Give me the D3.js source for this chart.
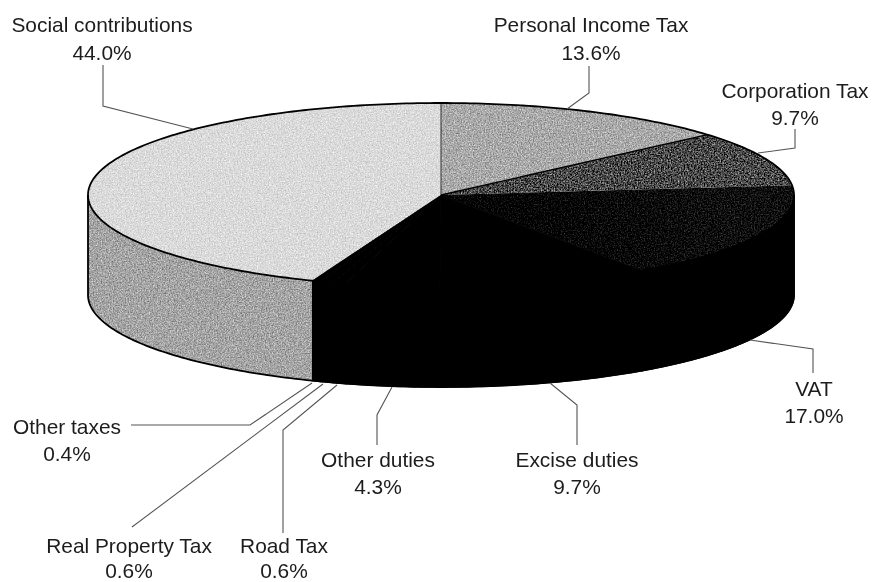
<!DOCTYPE html>
<html lang="en">

<head>
    <meta charset="UTF-8">
    <title>Tax revenue structure</title>
    <style>
        html,
        body {
            width: 100%;
            height: 100%;
            overflow: hidden;
            padding: 0;
            margin: 0;
            background: #fff;
        }

        text {
            font-family: "Liberation Sans", Arial, sans-serif;
            font-size: 20.9px;
            fill: #1c1c1c;
            text-anchor: middle;
        }
    </style>
</head>

<body>
    <svg id="chart" width="872" height="582"></svg>

    <script src="https://d3js.org/d3.v7.min.js"></script>
    <script>
        // values, clockwise from 12 o'clock
        const categories = ['Personal Income Tax', 'Corporation Tax', 'VAT', 'Excise duties', 'Other duties',
            'Road Tax', 'Real Property Tax', 'Other taxes', 'Social contributions'];
        const shares = [13.6, 9.7, 17.0, 9.7, 4.3, 0.6, 0.6, 0.4, 44.0];

        // look of each slice: top face, side wall, amount of grain
        const topFills = ['#a9a9a9', '#484848', 'url(#vatFade)', '#000', '#000', '#000', '#000', '#000', '#dadada'];
        const wallFills = ['#000', '#000', '#000', '#000', '#000', '#000', '#000', '#000', '#a4a4a4'];
        const grains = ['grainMid', 'grainHeavy', 'grainDark', 'none', 'none', 'none', 'none', 'none', 'grainLight'];

        // label centre, two baselines, then the leader line from the label to the pie rim
        const labelPos = [
            { x: 591, y: [32, 60], leader: [[589, 66], [589, 93], [567, 109]] },
            { x: 795, y: [98, 125], leader: [[795, 129], [795, 148], [758, 153]] },
            { x: 814, y: [396, 423], leader: [[813, 373], [813, 349], [750, 340]] },
            { x: 577, y: [467, 494], leader: [[577, 445], [577, 405], [550, 383]] },
            { x: 378, y: [467, 494], leader: [[377, 445], [377, 415], [392, 387]] },
            { x: 284, y: [553, 577.5], leader: [[283, 533], [283, 430], [337, 385]] },
            { x: 129, y: [553, 577.5], leader: [[132, 527], [323, 384]] },
            { x: 67, y: [434, 461], leader: [[131, 425], [250, 425], [312, 383]] },
            { x: 102, y: [32, 60], leader: [[103, 65], [103, 106], [193, 129]] }
        ];

        const depth = 100;
        // the pie is a circle seen at a slant: sin/cos of the angle map onto the ellipse
        const xScale = d3.scaleLinear().domain([-1, 1]).range([88, 794]);
        const yScale = d3.scaleLinear().domain([-1, 1]).range([287, 103]);
        const rimX = a => xScale(Math.sin(a));
        const rimY = a => yScale(Math.cos(a));

        const pie = d3.pie().sort(null).value(d => d);
        const slices = pie(shares);

        const steps = (a0, a1) => {
            const n = Math.max(2, Math.ceil(Math.abs(a1 - a0) * 60));
            return d3.range(n + 1).map(i => a0 + (a1 - a0) * i / n);
        };

        const svg = d3.select('#chart');
        const defs = svg.append('defs');

        // speckle like the scanned halftone
        function addGrain(id, amount, freq) {
            const f = defs.append('filter').attr('id', id)
                .attr('x', 0).attr('y', 0).attr('width', 1).attr('height', 1)
                .attr('color-interpolation-filters', 'sRGB');
            f.append('feTurbulence').attr('type', 'fractalNoise')
                .attr('baseFrequency', freq).attr('numOctaves', 2).attr('seed', 4).attr('result', 'n');
            f.append('feColorMatrix').attr('in', 'n').attr('type', 'matrix')
                .attr('values', '1 0 0 0 0  1 0 0 0 0  1 0 0 0 0  0 0 0 0 1').attr('result', 'g');
            f.append('feGaussianBlur').attr('in', 'g').attr('stdDeviation', 0.35).attr('result', 'gb');
            f.append('feComposite').attr('in', 'SourceGraphic').attr('in2', 'gb')
                .attr('operator', 'arithmetic')
                .attr('k1', 0).attr('k2', 1).attr('k3', amount).attr('k4', -amount / 2).attr('result', 'm');
            f.append('feComposite').attr('in', 'm').attr('in2', 'SourceAlpha').attr('operator', 'in');
        }
        addGrain('grainLight', 0.35, 0.75);
        addGrain('grainMid', 0.65, 0.75);
        addGrain('grainHeavy', 1.3, 0.7);
        addGrain('grainDark', 0.6, 0.7);

        // the VAT face sinks into black towards the lower left
        const fade = defs.append('linearGradient').attr('id', 'vatFade')
            .attr('gradientUnits', 'userSpaceOnUse')
            .attr('x1', 560).attr('y1', 260).attr('x2', 700).attr('y2', 170);
        fade.append('stop').attr('offset', 0).attr('stop-color', '#000');
        fade.append('stop').attr('offset', 1).attr('stop-color', '#0e0e0e');

        const soft = defs.append('filter').attr('id', 'soft');
        soft.append('feGaussianBlur').attr('stdDeviation', 0.45);

        const root = svg.append('g').attr('filter', 'url(#soft)');

        // side walls, only the front half of the rim shows
        const wallArea = d3.area().x(rimX).y0(rimY).y1(a => rimY(a) + depth);
        const front = slices.filter(d => d.endAngle > Math.PI / 2 && d.startAngle < 3 * Math.PI / 2);
        root.append('g').selectAll('g')
            .data(front)
            .join('g')
            .attr('filter', d => wallFills[d.index] === '#000' ? null : 'url(#grainMid)')
            .append('path')
            .attr('d', d => wallArea(steps(Math.max(d.startAngle, Math.PI / 2), Math.min(d.endAngle, 3 * Math.PI / 2))))
            .attr('fill', d => wallFills[d.index])
            .attr('stroke', d => wallFills[d.index])
            .attr('stroke-width', d => wallFills[d.index] === '#000' ? 1.5 : 0);

        // top faces
        const outline = d3.line().x(p => p[0]).y(p => p[1]);
        const cx = xScale(0), cy = yScale(0);
        const facePoints = d => [[cx, cy]].concat(steps(d.startAngle, d.endAngle).map(a => [rimX(a), rimY(a)]));
        root.append('g').selectAll('g')
            .data(slices)
            .join('g')
            .attr('filter', d => grains[d.index] === 'none' ? null : `url(#${grains[d.index]})`)
            .append('path')
            .attr('d', d => outline(facePoints(d)) + 'Z')
            .attr('fill', d => topFills[d.index])
            .attr('stroke', d => grains[d.index] === 'none' ? '#000' : 'none')
            .attr('stroke-width', 1);

        // dividers between the lighter faces
        const spokes = root.append('g');
        [slices[0].startAngle, slices[0].endAngle].forEach((a, i) => {
            spokes.append('path')
                .attr('d', outline([[cx, cy], [rimX(a), rimY(a)]]))
                .attr('stroke', i === 0 ? '#333' : '#000')
                .attr('stroke-width', i === 0 ? 1 : 1.4)
                .attr('fill', 'none');
        });

        // rim and lower edge
        root.append('path')
            .attr('d', outline(steps(0, 2 * Math.PI).map(a => [rimX(a), rimY(a)])) + 'Z')
            .attr('fill', 'none').attr('stroke', '#000').attr('stroke-width', 1.8);
        root.append('path')
            .attr('d', outline([[rimX(3 * Math.PI / 2), rimY(3 * Math.PI / 2)]]
                .concat(steps(3 * Math.PI / 2, Math.PI / 2).map(a => [rimX(a), rimY(a) + depth]))
                .concat([[rimX(Math.PI / 2), rimY(Math.PI / 2)]])))
            .attr('fill', 'none').attr('stroke', '#000').attr('stroke-width', 1.8);

        // leader lines
        root.append('g').selectAll('path')
            .data(labelPos)
            .join('path')
            .attr('d', d => outline(d.leader))
            .attr('fill', 'none')
            .attr('stroke', '#555')
            .attr('stroke-width', 1.1);

        // labels
        const labels = root.append('g').selectAll('g')
            .data(slices)
            .join('g');
        labels.append('text')
            .attr('x', d => labelPos[d.index].x)
            .attr('y', d => labelPos[d.index].y[0])
            .text(d => categories[d.index]);
        labels.append('text')
            .attr('x', d => labelPos[d.index].x)
            .attr('y', d => labelPos[d.index].y[1])
            .text(d => d3.format('.1f')(d.data) + '%');
    </script>
</body>

</html>
